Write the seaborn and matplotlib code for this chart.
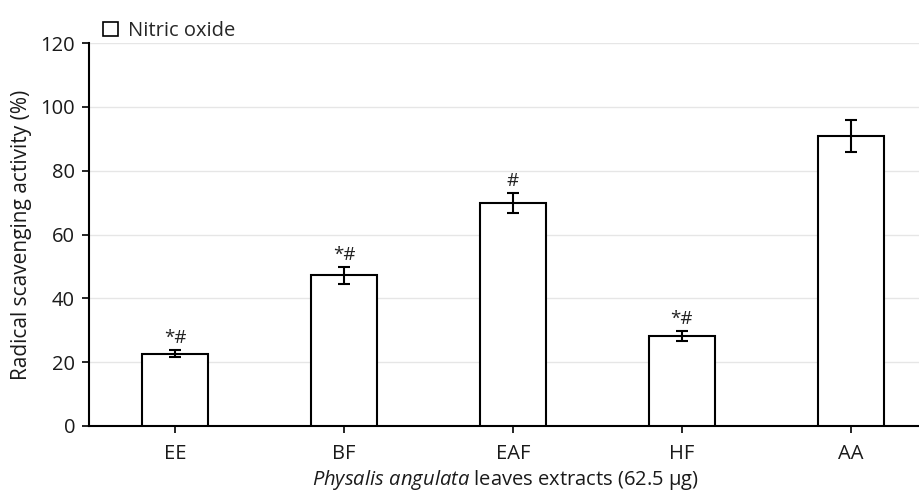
import numpy as np
import pandas as pd
import matplotlib
matplotlib.use("Agg")
import matplotlib.pyplot as plt
import seaborn as sns
from matplotlib.patches import Patch

# values
categories = ["EE", "BF", "EAF", "HF", "AA"]
activity = [22.7, 47.2, 69.9, 28.1, 90.9]
sem = [1.2, 2.6, 3.2, 1.6, 5.1]
marks = ["*#", "*#", "#", "*#", ""]

df = pd.DataFrame({"extract": categories, "activity": activity})

sns.set_theme(style="white")
plt.rcParams["font.family"] = ["Open Sans", "DejaVu Sans"]
plt.rcParams["mathtext.fontset"] = "custom"
plt.rcParams["mathtext.rm"] = "Open Sans"
plt.rcParams["mathtext.it"] = "Open Sans:italic"

fs = 14.5
fig = plt.figure(figsize=(9.2, 4.99), dpi=100)
ax = fig.add_axes([0.0967, 0.1463, 0.905, 0.7675])

sns.barplot(data=df, x="extract", y="activity", color="white",
            edgecolor="black", linewidth=1.5, width=0.39, ax=ax, zorder=3)

pos = np.arange(len(categories))
ax.errorbar(pos, activity, yerr=sem, fmt="none", ecolor="black",
            elinewidth=1.5, capsize=4.6, capthick=1.5, zorder=4)

for x, y, e, m in zip(pos, activity, sem, marks):
    if m:
        ax.annotate(m, (x, y + e), xytext=(0, 2), textcoords="offset points",
                    ha="center", va="bottom", fontsize=13.5, color="#222222")

ax.set_ylim(0, 120)
ax.set_yticks(range(0, 121, 20))
ax.set_xlim(-0.51, 4.42)
ax.yaxis.grid(True, color="#e6e6e6", linewidth=1, zorder=0)
ax.set_axisbelow(True)

for s in ["top", "right"]:
    ax.spines[s].set_visible(False)
for s in ["left", "bottom"]:
    ax.spines[s].set_color("black")
    ax.spines[s].set_linewidth(1.5)

ax.tick_params(axis="both", direction="out", length=5, width=1.2, pad=5,
               color="black", labelsize=fs, labelcolor="#1a1a1a", bottom=True, left=True)
ax.tick_params(axis="x", pad=8)

ax.set_ylabel("Radical scavenging activity (%)", fontsize=15, color="#1a1a1a", labelpad=6)
ax.set_xlabel(r"$\it{Physalis\ angulata}$ leaves extracts (62.5 μg)",
              fontsize=fs, color="#1a1a1a", labelpad=3)

ax.legend(handles=[Patch(facecolor="white", edgecolor="black", linewidth=1.2)],
          labels=["Nitric oxide"], loc="lower left", bbox_to_anchor=(0.014, 1.0),
          frameon=False, fontsize=fs, handlelength=0.75, handleheight=0.75,
          handletextpad=0.5, borderaxespad=0, borderpad=0.1)

fig.savefig("out.png", dpi=100)
